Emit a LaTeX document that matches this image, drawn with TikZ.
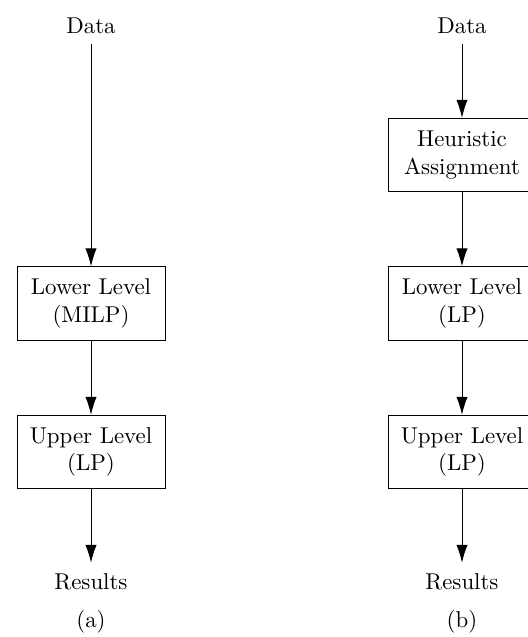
\documentclass[tikz,border=0pt]{standalone}
\usetikzlibrary{arrows.meta}
\begin{document}
\begin{tikzpicture}[x=0.437pt,y=-0.437pt,
  box/.style={draw, align=center, minimum width=64.7pt, minimum height=32.1pt, inner sep=0pt},
  txt/.style={inner sep=4.4pt},
  arr/.style={-{Latex[length=7.8pt,width=4.9pt]}}]
\useasboundingbox (0,0) rectangle (527,637);
% (a)
\node[txt] (da) at (91,25.5) {Data};
\node[box] (la) at (91,303.5) {Lower Level\\(MILP)};
\node[box] (ua) at (91,452) {Upper Level\\(LP)};
\node[txt] (ra) at (91,581.5) {Results};
\node (ca) at (91,622) {(a)};
\draw[arr] (da) -- (la);
\draw[arr] (la) -- (ua);
\draw[arr] (ua) -- (ra);
% (b)
\node[txt] (db) at (462,25.5) {Data};
\node[box] (hb) at (462,155) {Heuristic\\Assignment};
\node[box] (lb) at (462,303.5) {Lower Level\\(LP)};
\node[box] (ub) at (462,452) {Upper Level\\(LP)};
\node[txt] (rb) at (462,581.5) {Results};
\node (cb) at (462,622) {(b)};
\draw[arr] (db) -- (hb);
\draw[arr] (hb) -- (lb);
\draw[arr] (lb) -- (ub);
\draw[arr] (ub) -- (rb);
\end{tikzpicture}
\end{document}
